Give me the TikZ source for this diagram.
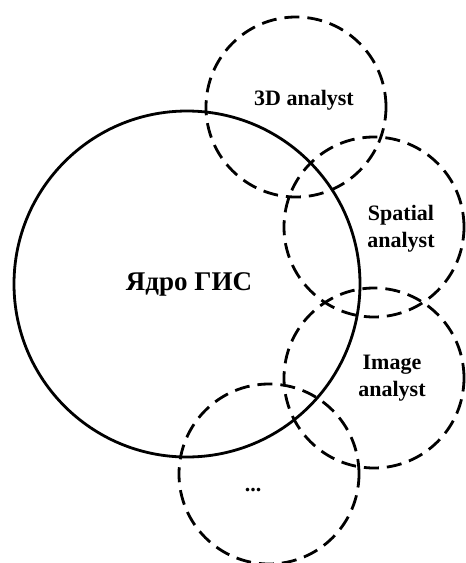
\documentclass[tikz,border=0pt]{standalone}
\usepackage{fontspec}
\setmainfont{Liberation Serif}
\usetikzlibrary{positioning}

\begin{document}
\begin{tikzpicture}[
        x=1pt, y=-1pt,
        every node/.style={align=center, inner sep=0pt, outer sep=0pt},
        % ===== Geometría fija =====
        % Lienzo 466 × 563 (1 unidad = 1pt, eje y hacia abajo)
        % Núcleo: centro (187,284), radio 173. Módulos: radio 90.
        % ============= Estilos =============
        nucleo/.style={circle, draw=black, line width=2.8pt, minimum size=346pt},
        modulo/.style={circle, draw=black, line width=2.8pt,
                       dash pattern=on 15pt off 8pt, minimum size=180pt},
        modtexto/.style={font=\fontsize{22}{27}\selectfont\bfseries, text=black},
        nuctexto/.style={font=\fontsize{27}{32}\selectfont\bfseries, text=black}
    ]
        \useasboundingbox (0,0) rectangle (466,563);

        % ===== Núcleo =====
        \node[nucleo] (gis) at (187,284) {};
        \node[nuctexto] (gistxt) at (189,284) {Ядро ГИС};

        % ===== Módulos =====
        \foreach \nom/\xc/\yc/\tx/\ty/\txt in {%
            a3d/296/107/304/100/{3D analyst},
            spat/374/227/401/229/{Spatial\\analyst},
            img/374/378/392/378/{Image\\analyst},
            otros/269/474/253/490/{...}%
        }{
            \node[modulo] (\nom) at (\xc,\yc) {};
            \node[modtexto] (\nom txt) at (\tx,\ty) {\txt};
        }
    \end{tikzpicture}
\end{document}
